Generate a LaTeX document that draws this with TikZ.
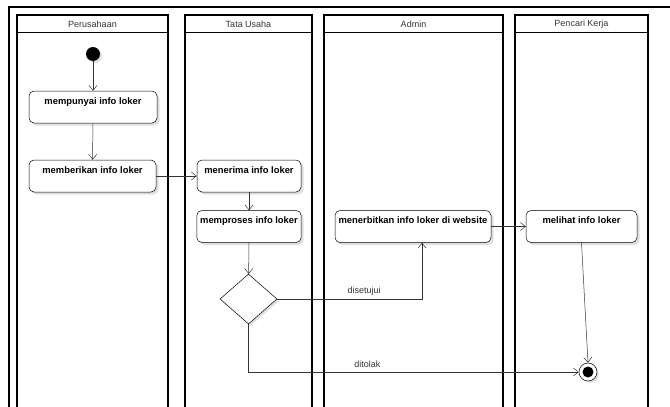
\documentclass[tikz,border=0pt]{standalone}
\usepackage{fontspec}
\setmainfont{Liberation Sans}
\usetikzlibrary{arrows.meta,shapes.geometric,shadows}

\tikzset{
  lane/.style={line width=1.5pt},
  act/.style={draw, rounded corners=5pt, fill=white, font=\fontsize{9.4}{10}\selectfont\bfseries,
    inner ysep=4pt, text height=9pt, text depth=15pt, line width=0.5pt,
    drop shadow={shadow xshift=2.5pt, shadow yshift=-2.5pt, fill=black!12, opacity=1}},
  flow/.style={-{Straight Barb[length=5pt,width=8pt]}, line width=0.5pt, black!80},
  lbl/.style={font=\fontsize{9}{10}\selectfont, text=black!80},
}

\begin{document}
\begin{tikzpicture}[x=1pt, y=-1pt]
\useasboundingbox (0,0) rectangle (670,407);
\draw [lane] (9,409) -- (9,7) -- (672,7);
\draw [lane] (17,407) -- (17,15) -- (168,15) -- (168,407);
\draw [lane] (185,407) -- (185,15) -- (312,15) -- (312,407);
\draw [lane] (324,407) -- (324,15) -- (503,15) -- (503,407);
\draw [lane] (515,407) -- (515,15) -- (648,15) -- (648,407);
\draw [line width=0.9pt] (17,32) -- (168,32) (185,32) -- (312,32) (324,32) -- (503,32) (515,32) -- (648,32);
\node [lbl] at (92.5,24) {Perusahaan};
\node [lbl] at (248.5,24) {Tata Usaha};
\node [lbl] at (413.5,24) {Admin};
\node [lbl] at (581.5,24) {Pencari Kerja};

\node [circle, fill=black, minimum size=14pt, inner sep=0pt,
  drop shadow={shadow xshift=2pt, shadow yshift=-2pt, fill=black!12, opacity=1}] (start) at (93,54) {};
\node [act, minimum width=128pt] (punya) at (93,107) {mempunyai info loker};
\node [act, minimum width=127pt] (beri) at (92.5,176) {memberikan info loker};
\node [act, minimum width=104pt] (terima) at (249,176) {menerima info loker};
\node [act, minimum width=104pt] (proses) at (249,226.5) {memproses info loker};
\node [diamond, draw, fill=white, aspect=1.14, minimum width=57pt, minimum height=50pt, inner sep=0pt,
  line width=0.5pt, drop shadow={shadow xshift=2pt, shadow yshift=-2pt, fill=black!12, opacity=1}] (cek) at (248.5,299) {};
\node [act, minimum width=156pt] (terbit) at (413,226.5) {menerbitkan info loker di website};
\node [act, minimum width=111pt] (lihat) at (581.5,226.5) {melihat info loker};
\node [circle, draw, fill=white, minimum size=18pt, inner sep=0pt, line width=0.5pt,
  drop shadow={shadow xshift=2pt, shadow yshift=-2pt, fill=black!12, opacity=1}] (akhir) at (588,372) {};
\node [circle, fill=black, minimum size=11pt, inner sep=0pt] at (akhir) {};

\draw [flow] (start) -- (punya);
\draw [flow] (punya) -- (beri);
\draw [flow] (beri) -- (terima);
\draw [flow] (terima) -- (proses);
\draw [flow] (proses) -- (cek);
\draw [flow] (cek.east) -| ([xshift=9pt]terbit.south) node [lbl, pos=0.3, above] {disetujui};
\draw [flow] (cek.south) |- (akhir.west) node [lbl, pos=0.68, above=1pt] {ditolak};
\draw [flow] (terbit) -- (lihat);
\draw [flow] (lihat.south) -- (akhir.north);
\end{tikzpicture}
\end{document}
